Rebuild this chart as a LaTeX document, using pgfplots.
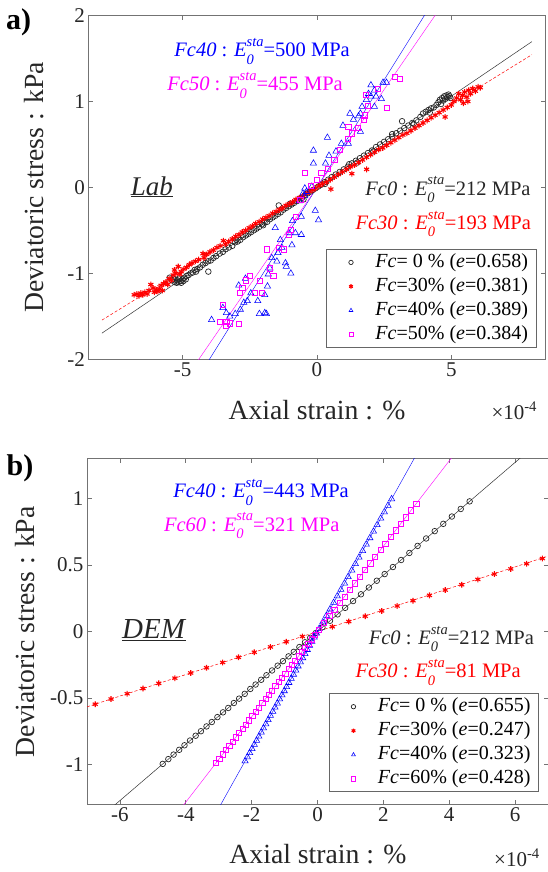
\documentclass[border=0pt]{standalone}
\usepackage{fontspec}
\setmainfont{Liberation Serif}
\usepackage{pgfplots}
\pgfplotsset{compat=1.18}

\definecolor{mred}{rgb}{1,0,0}
\definecolor{mblue}{rgb}{0,0,1}
\definecolor{mmag}{rgb}{1,0,1}

% E_0^sta with stacked scripts
\newcommand\Esta{\textit{E}\rlap{\raisebox{-0.36em}{\fontsize{14.5}{15}\selectfont\textit{0}}}\raisebox{0.5em}{\fontsize{14.5}{15}\selectfont\textit{sta}}}
\newcommand\annot{\fontsize{20.5}{21}\selectfont}

\pgfplotsset{
  matlab/.style={
    scale only axis,
    axis line style={black!55, line width=0.6pt},
    major tick length=4.5pt,
    tick style={black!55, line width=0.6pt},
    tick label style={font=\fontsize{21}{21}\selectfont, text=black!85},
    /pgf/number format/assume math mode=true,
    label style={font=\fontsize{27.7}{28}\selectfont, text=black!85},
    legend cell align=left,
    legend style={anchor=south east, draw=black!60, line width=0.6pt,
      font=\fontsize{20}{20}\selectfont, inner xsep=6pt, inner ysep=1pt,
      nodes={inner sep=2pt, text height=15pt, text depth=5pt}},
    legend image code/.code={\path[draw=none, fill=none] (-18.5pt,-5pt) (22.5pt,5pt);
      \draw[##1, mark size=2.2pt] plot coordinates {(0pt,0pt)};},
  },
  s0/.style={only marks, mark=o, mark size=2.8pt, black!85, line width=0.7pt},
  s30/.style={only marks, mark=asterisk, mark size=2.9pt, mred, line width=1.1pt},
  s40/.style={only marks, mark=triangle, mark size=3.6pt, mblue, line width=0.55pt},
  s50/.style={only marks, mark=square, mark size=2.6pt, mmag, line width=0.55pt},
}

\begin{document}
\begin{tikzpicture}
\path[use as bounding box] (0pt,0pt) rectangle (547pt,-872pt);

% ---------------- a) Lab ----------------
\begin{axis}[matlab,
  at={(88.5pt,-359.3pt)}, anchor=south west,
  width=456.8pt, height=343.8pt,
  xmin=-8.5, xmax=8.5, ymin=-2, ymax=2,
  xtick={-5,0,5}, ytick={-2,-1,0,1,2},
  xlabel={Axial strain : \%}, ylabel={Deviatoric stress : kPa},
  xlabel style={at={(axis description cs:0.5002,-0.1745)}, anchor=base},
  ylabel style={at={(axis description cs:-0.0983,0.4997)}, anchor=base},
  legend style={at={(axis description cs:0.9803,0.0337)}},
]
\addplot[black!80, line width=0.5pt, forget plot] coordinates {(-8,-1.696) (8,1.696)};
\addplot[mred, densely dashed, line width=0.5pt, forget plot] coordinates {(-8,-1.544) (8,1.544)};
\addplot[mblue, line width=0.4pt, forget plot] coordinates {(-4.1,-2.05) (4.1,2.05)};
\addplot[mmag, line width=0.4pt, forget plot] coordinates {(-4.5,-2.048) (4.5,2.048)};

\addplot[s0] coordinates {
(-5.48,-1.05) (-5.40,-1.08) (-5.35,-1.06) (-5.30,-1.10) (-5.27,-1.07) (-5.22,-1.11)
(-5.20,-1.08) (-5.15,-1.10) (-5.12,-1.06) (-5.08,-1.09) (-5.05,-1.11) (-5.00,-1.07)
(-4.97,-1.09) (-4.93,-1.05) (-4.88,-1.07) (-4.85,-1.03) (-4.78,-1.02) (-4.70,-1.00)
(-4.62,-0.99) (-4.55,-0.96) (-4.45,-0.95) (-4.35,-0.93) (-4.25,-0.90) (-4.04,-0.98)
(-4.15,-0.88) (-4.05,-0.86) (-3.95,-0.85) (-3.85,-0.82) (-3.75,-0.80) (-3.62,-0.77)
(-3.50,-0.75) (-3.40,-0.72) (-3.28,-0.70) (-3.15,-0.68) (-3.05,-0.64) (-2.95,-0.63)
(-2.85,-0.61) (-2.75,-0.58) (-2.65,-0.56) (-2.55,-0.54) (-2.45,-0.52) (-2.35,-0.50)
(-2.25,-0.48) (-2.15,-0.46) (-2.05,-0.43) (-1.95,-0.41) (-1.85,-0.40) (-1.75,-0.37)
(-1.65,-0.35) (-1.55,-0.33) (-1.42,-0.21) (-1.45,-0.31) (-1.35,-0.29) (-1.25,-0.26)
(-1.15,-0.24) (-1.05,-0.22) (-0.95,-0.20) (-0.85,-0.18) (-0.75,-0.16) (-0.65,-0.13)
(-0.55,-0.12) (-0.45,-0.09) (-0.35,-0.07) (-0.25,-0.05) (-0.15,-0.03) (-0.05,-0.01)
(0.05,0.01) (0.15,0.03) (0.28,0.06) (0.42,0.09) (0.55,0.12) (0.70,0.15)
(0.85,0.18) (1.00,0.21) (1.15,0.24) (1.30,0.28) (1.45,0.31) (1.60,0.34)
(1.75,0.37) (1.90,0.40) (2.05,0.43) (2.20,0.47) (2.35,0.50) (2.50,0.53)
(2.65,0.56) (2.80,0.59) (2.95,0.63) (3.10,0.66) (3.17,0.77) (3.25,0.69)
(3.40,0.72) (3.55,0.75) (3.70,0.78) (3.85,0.82) (3.95,0.86) (4.05,0.88)
(4.15,0.90) (4.25,0.92) (4.35,0.93) (4.45,0.96) (4.52,0.99) (4.58,1.02)
(4.62,0.97) (4.66,1.04) (4.70,1.01) (4.74,1.06) (4.78,1.03) (4.82,1.07)
(4.86,1.05) (4.90,1.08) (4.94,1.06) (4.97,1.04)
(-3.00,-0.61) (-2.00,-0.44) (-1.00,-0.19) (0.30,0.04) (1.20,0.27) (2.10,0.42)
(2.80,0.62) (3.60,0.74) (4.20,0.87) (-0.50,-0.14) (1.50,0.29) (-4.50,-0.98)
};
\addlegendentry{\textit{Fc}= 0 \% (\textit{e}=0.658)}

\addplot[s30] coordinates {
(-6.80,-1.25) (-6.70,-1.24) (-6.62,-1.26) (-6.55,-1.23) (-6.48,-1.25) (-6.40,-1.22)
(-6.32,-1.24) (-6.25,-1.20) (-6.18,-1.13) (-6.10,-1.17) (-6.05,-1.22) (-5.98,-1.19)
(-5.92,-1.21) (-5.85,-1.18) (-5.80,-1.14) (-5.75,-1.20) (-5.70,-1.12) (-5.62,-1.10)
(-5.55,-1.13) (-5.50,-1.06) (-5.42,-1.08) (-5.35,-1.02) (-5.30,-0.96) (-5.25,-1.00)
(-5.16,-0.92) (-5.10,-1.01) (-5.05,-0.98) (-4.95,-0.95) (-4.85,-0.93) (-4.75,-0.90)
(-4.65,-0.88) (-4.52,-0.86) (-4.40,-0.84) (-4.24,-0.77) (-4.20,-0.82) (-4.10,-0.78)
(-3.98,-0.75) (-3.85,-0.73) (-3.72,-0.70) (-3.60,-0.68) (-3.48,-0.62) (-3.40,-0.66)
(-3.28,-0.63) (-3.15,-0.60) (-3.02,-0.57) (-2.90,-0.55) (-2.78,-0.52) (-2.65,-0.50)
(-2.52,-0.47) (-2.40,-0.45) (-2.28,-0.42) (-2.15,-0.40) (-2.02,-0.37) (-1.90,-0.35)
(-1.78,-0.33) (-1.65,-0.30) (-1.52,-0.28) (-1.40,-0.26) (-1.28,-0.24) (-1.15,-0.21)
(-1.02,-0.19) (-0.90,-0.17) (-0.78,-0.14) (-0.65,-0.12) (-0.52,-0.10) (-0.40,-0.07)
(-0.28,-0.05) (-0.15,-0.03) (-0.05,-0.01) (0.08,0.02) (0.20,0.04) (0.35,0.06)
(0.52,-0.02) (0.50,0.09) (0.65,0.12) (0.80,0.15) (0.95,0.18) (1.10,0.21)
(1.30,0.16) (1.25,0.24) (1.40,0.26) (1.55,0.29) (1.70,0.32) (1.85,0.21)
(1.85,0.35) (2.00,0.38) (2.15,0.41) (2.30,0.44) (2.45,0.46) (2.60,0.49)
(2.75,0.52) (2.90,0.55) (3.05,0.58) (3.20,0.61) (3.35,0.63) (3.50,0.66)
(3.65,0.69) (3.80,0.72) (3.95,0.75) (4.10,0.78) (4.25,0.81) (4.40,0.84)
(4.55,0.87) (4.70,0.90) (4.77,0.82) (4.85,0.93) (5.00,0.96) (5.10,1.00)
(5.20,1.04) (5.28,1.09) (5.35,1.02) (5.42,1.07) (5.50,1.11) (5.58,1.05)
(5.65,1.13) (5.72,1.09) (5.80,1.15) (5.90,1.12) (6.00,1.17) (6.08,1.16)
(5.45,0.98) (5.62,1.00)
};
\addlegendentry{\textit{Fc}=30\% (\textit{e}=0.381)}

\addplot[s40] coordinates {
(-3.92,-1.54) (-3.50,-1.40) (-3.37,-1.46) (-3.24,-1.50) (-3.04,-1.47) (-2.91,-1.14)
(-2.85,-1.42) (-2.72,-1.34) (-2.59,-1.32) (-2.66,-1.06) (-2.46,-1.23) (-2.20,-1.32)
(-2.14,-1.47) (-1.94,-1.46) (-1.88,-1.47) (-1.94,-1.25) (-1.84,-1.15) (-1.81,-1.01)
(-1.75,-0.94) (-1.68,-0.82) (-1.49,-0.86) (-1.45,-0.76) (-1.55,-0.47) (-1.36,-0.61)
(-1.30,-0.70) (-1.17,-0.88) (-1.14,-0.92) (-0.97,-1.00) (-1.04,-0.53) (-0.93,-0.67)
(-0.91,-0.39) (-0.80,-0.53) (-0.58,-0.55) (-0.58,-0.34) (-0.45,-0.10) (-0.39,-0.05)
(-0.19,0.01) (-0.06,-0.27) (0.06,-0.38) (-0.13,0.28) (-0.13,0.43) (0.32,0.28)
(0.45,0.37) (0.39,0.58) (0.71,0.42) (0.91,0.51) (0.97,0.72) (1.17,0.51)
(1.23,0.86) (1.36,0.79) (1.62,0.65) (1.62,0.86) (1.68,0.94) (1.84,1.02)
(1.92,1.09) (2.01,1.19) (2.14,1.13) (2.20,1.06) (2.40,1.03) (2.14,0.94)
(2.46,1.22) (2.59,1.22) (2.01,1.06) (1.55,0.83) (-0.45,-0.01) (-0.52,-0.07)
(-0.65,-0.16)
};
\addlegendentry{\textit{Fc}=40\% (\textit{e}=0.389)}

\addplot[s50] coordinates {
(-3.60,-1.56) (-3.50,-1.37) (-3.37,-1.56) (-3.24,-1.58) (-3.39,-1.61) (-2.91,-1.59)
(-2.88,-1.23) (-2.78,-1.17) (-2.66,-1.08) (-2.49,-1.03) (-2.31,-1.23) (-2.14,-1.09)
(-2.05,-1.23) (-1.88,-0.72) (-1.75,-0.94) (-1.62,-1.03) (-1.42,-0.70) (-1.23,-0.72)
(-1.06,-0.55) (-0.97,-0.49) (-0.78,-0.34) (-0.62,-0.14) (-0.45,0.17) (-0.23,0.02)
(0.00,0.09) (0.16,0.17) (0.39,0.22) (0.65,0.32) (0.84,0.44) (1.14,0.57)
(1.30,0.63) (1.53,0.69) (1.75,0.79) (1.79,0.84) (1.88,0.95) (1.81,1.08)
(2.27,1.15) (2.59,0.93) (2.91,1.29) (3.08,1.26) (1.17,0.71)
};
\addlegendentry{\textit{Fc}=50\% (\textit{e}=0.384)}
\end{axis}

\node[anchor=base west, inner sep=0, font=\fontsize{30}{30}\selectfont\bfseries] at (6pt,-29.3pt) {a)};
\node[anchor=base west, inner sep=0, text=mblue] at (174.2pt,-56.7pt) {\annot\textit{Fc40} : \Esta=500 MPa};
\node[anchor=base west, inner sep=0, text=mmag] at (167.2pt,-90.7pt) {\annot\textit{Fc50} : \Esta=455 MPa};
\node[anchor=base west, inner sep=0, text=black!85] at (365.2pt,-195pt) {\annot\textit{Fc0} : \Esta=212 MPa};
\node[anchor=base west, inner sep=0, text=mred] at (355.4pt,-229.3pt) {\annot\textit{Fc30} : \Esta=193 MPa};
\node[anchor=base west, inner sep=0, text=black!85] at (130.7pt,-195pt) {\fontsize{27}{27}\selectfont\underline{\textit{Lab}}};
\node[anchor=base west, inner sep=0, text=black!85] at (491.3pt,-419pt) {\fontsize{21}{21}\selectfont ×10\textsuperscript{-4}};

% ---------------- b) DEM ----------------
\begin{axis}[matlab,
  at={(87pt,-804.3pt)}, anchor=south west,
  width=461pt, height=345.6pt,
  xmin=-7, xmax=7, ymin=-1.3, ymax=1.3,
  xtick={-6,-4,-2,0,2,4,6}, ytick={-1,-0.5,0,0.5,1},
  xlabel={Axial strain : \%}, ylabel={Deviatoric stress : kPa},
  xlabel style={at={(axis description cs:0.501,-0.1719)}, anchor=base},
  ylabel style={at={(axis description cs:-0.1132,0.4991)}, anchor=base},
  legend style={at={(axis description cs:0.980,0.0356)}},
]
\addplot[black!80, line width=0.5pt, forget plot] coordinates {(-7,-1.484) (7,1.484)};
\addplot[mred, densely dashed, line width=0.5pt, forget plot] coordinates {(-7,-0.567) (7,0.567)};
\addplot[mblue, line width=0.4pt, forget plot] coordinates {(-3.2,-1.418) (3.2,1.418)};
\addplot[mmag, line width=0.4pt, forget plot] coordinates {(-4.3,-1.380) (4.3,1.380)};

\addplot[s0] coordinates {
(-4.70,-0.996) (-4.53,-0.960) (-4.37,-0.926) (-4.20,-0.890) (-4.04,-0.856) (-3.87,-0.820)
(-3.70,-0.784) (-3.54,-0.750) (-3.37,-0.714) (-3.21,-0.681) (-3.04,-0.644) (-2.87,-0.608)
(-2.71,-0.575) (-2.54,-0.538) (-2.38,-0.505) (-2.21,-0.469) (-2.04,-0.432) (-1.88,-0.399)
(-1.71,-0.363) (-1.55,-0.329) (-1.38,-0.293) (-1.21,-0.257) (-1.05,-0.223) (-0.88,-0.187)
(-0.72,-0.153) (-0.55,-0.117) (-0.38,-0.081) (-0.22,-0.047) (-0.05,-0.011)
(0.15,0.032) (0.38,0.081) (0.61,0.129) (0.84,0.178) (1.08,0.229) (1.32,0.280)
(1.56,0.331) (1.80,0.382) (2.04,0.432) (2.29,0.485) (2.54,0.538) (2.79,0.591)
(3.04,0.644) (3.30,0.700) (3.56,0.755) (3.82,0.810) (4.08,0.865) (4.35,0.922)
(4.62,0.979)
};
\addlegendentry{\textit{Fc}= 0 \% (\textit{e}=0.655)}

\addplot[s30] coordinates {
(-6.75,-0.547) (-6.27,-0.508) (-5.78,-0.468) (-5.30,-0.429) (-4.82,-0.390) (-4.33,-0.351)
(-3.85,-0.312) (-3.37,-0.273) (-2.88,-0.233) (-2.40,-0.194) (-1.92,-0.156) (-1.43,-0.116)
(-0.95,-0.077) (-0.46,-0.037)
(0.45,0.036) (0.95,0.075) (1.45,0.115) (1.95,0.155) (2.42,0.192) (2.90,0.232)
(3.40,0.272) (3.88,0.312) (4.38,0.352) (4.87,0.392) (5.37,0.432) (5.87,0.471)
(6.35,0.510) (6.83,0.549)
};
\addlegendentry{\textit{Fc}=30\% (\textit{e}=0.247)}

\addplot[s40] coordinates {
(-2.20,-0.975) (-2.13,-0.944) (-2.06,-0.913) (-1.99,-0.882) (-1.92,-0.851) (-1.85,-0.820)
(-1.78,-0.789) (-1.71,-0.758) (-1.64,-0.727) (-1.57,-0.696) (-1.50,-0.665) (-1.43,-0.633)
(-1.36,-0.602) (-1.29,-0.571) (-1.22,-0.540) (-1.15,-0.509) (-1.08,-0.478) (-1.01,-0.447)
(-0.94,-0.416) (-0.87,-0.385) (-0.80,-0.354) (-0.73,-0.323) (-0.66,-0.292) (-0.59,-0.261)
(-0.52,-0.230) (-0.45,-0.199) (-0.38,-0.168) (-0.31,-0.137) (-0.24,-0.106) (-0.17,-0.075)
(-0.10,-0.044) (-0.03,-0.013)
(0.05,0.022) (0.16,0.071) (0.27,0.120) (0.38,0.168) (0.49,0.217) (0.60,0.266)
(0.71,0.315) (0.82,0.363) (0.93,0.412) (1.04,0.461) (1.15,0.509) (1.26,0.558)
(1.37,0.607) (1.48,0.656) (1.59,0.704) (1.70,0.753) (1.81,0.802) (1.92,0.851)
(2.03,0.899) (2.14,0.948) (2.25,0.997)
};
\addlegendentry{\textit{Fc}=40\% (\textit{e}=0.323)}

\addplot[s50] coordinates {
(-3.08,-0.989) (-2.98,-0.957) (-2.88,-0.924) (-2.78,-0.892) (-2.68,-0.860) (-2.58,-0.828)
(-2.48,-0.796) (-2.38,-0.764) (-2.28,-0.732) (-2.18,-0.700) (-2.08,-0.668) (-1.98,-0.636)
(-1.88,-0.603) (-1.78,-0.571) (-1.68,-0.539) (-1.58,-0.507) (-1.48,-0.475) (-1.38,-0.443)
(-1.28,-0.411) (-1.18,-0.379) (-1.08,-0.347) (-0.98,-0.315) (-0.88,-0.282) (-0.78,-0.250)
(-0.68,-0.218) (-0.58,-0.186) (-0.48,-0.154) (-0.38,-0.122) (-0.28,-0.090) (-0.18,-0.058)
(-0.08,-0.026)
(0.05,0.016) (0.20,0.064) (0.36,0.116) (0.51,0.164) (0.67,0.215) (0.82,0.263)
(0.98,0.315) (1.13,0.363) (1.29,0.414) (1.44,0.462) (1.60,0.514) (1.75,0.562)
(1.91,0.613) (2.06,0.661) (2.22,0.713) (2.37,0.761) (2.53,0.812) (2.68,0.860)
(2.84,0.912) (3.00,0.963)
};
\addlegendentry{\textit{Fc}=60\% (\textit{e}=0.428)}
\end{axis}

\node[anchor=base west, inner sep=0, font=\fontsize{30}{30}\selectfont\bfseries] at (6.5pt,-475.3pt) {b)};
\node[anchor=base west, inner sep=0, text=mblue] at (173.2pt,-497.7pt) {\annot\textit{Fc40} : \Esta=443 MPa};
\node[anchor=base west, inner sep=0, text=mmag] at (163.8pt,-531pt) {\annot\textit{Fc60} : \Esta=321 MPa};
\node[anchor=base west, inner sep=0, text=black!85] at (368.6pt,-644.3pt) {\annot\textit{Fc0} : \Esta=212 MPa};
\node[anchor=base west, inner sep=0, text=mred] at (355.4pt,-677.7pt) {\annot\textit{Fc30} : \Esta=81 MPa};
\node[anchor=base west, inner sep=0, text=black!85] at (122pt,-638.7pt) {\fontsize{29}{29}\selectfont\underline{\textit{DEM}}};
\node[anchor=base west, inner sep=0, text=black!85] at (494pt,-866pt) {\fontsize{21}{21}\selectfont ×10\textsuperscript{-4}};
\end{tikzpicture}
\end{document}
